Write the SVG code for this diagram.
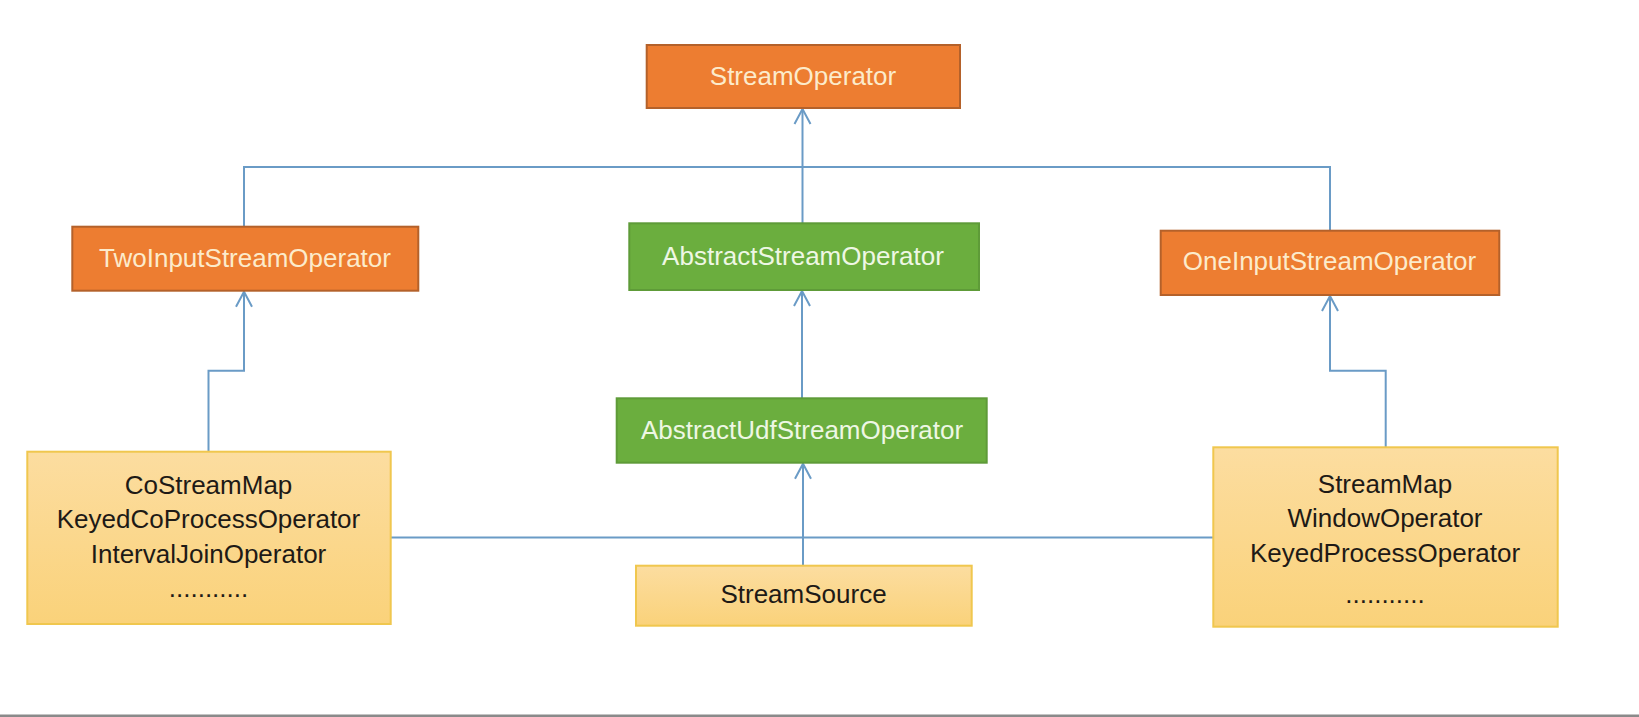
<svg xmlns="http://www.w3.org/2000/svg" width="1639" height="717" viewBox="0 0 1639 717">
<defs>
<style>
.orange{fill:#ED7D31;stroke:#B4612A;stroke-width:2}
.green{fill:#6BAE3E;stroke:#5E9B38;stroke-width:2}
.yellow{fill:#FBD88A;stroke:#F0C74E;stroke-width:2}
text{font-family:"Liberation Sans",Arial,sans-serif;font-size:26px;text-anchor:middle}
.lt{fill:#FCEBCB}
.lg{fill:#EEF7E4}
.dk{fill:#1E1A16}
.conn{fill:none;stroke:#6A9BC6;stroke-width:2}
</style>
<linearGradient id="yg" x1="0" y1="0" x2="0" y2="1">
<stop offset="0" stop-color="#FCDDA0"/>
<stop offset="1" stop-color="#FAD27A"/>
</linearGradient>
<marker id="open" viewBox="0 0 20 20" refX="18" refY="10" markerWidth="20" markerHeight="20" markerUnits="userSpaceOnUse" orient="auto">
<path d="M3,2 L18,10 L3,18" fill="none" stroke="#6A9BC6" stroke-width="2"/>
</marker>
</defs>
<rect width="1639" height="717" fill="#FFFFFF"/>
<g id="connectors">
<path class="conn" d="M244,226.7 V167 H1330 V230.7"/>
<path class="conn" d="M802.5,223.3 V109" marker-end="url(#open)"/>
<path class="conn" d="M802,398.3 V291" marker-end="url(#open)"/>
<path class="conn" d="M208.5,451.7 V370.7 H244 V291.7" marker-end="url(#open)"/>
<path class="conn" d="M1385.7,447.3 V370.7 H1330 V296" marker-end="url(#open)"/>
<path class="conn" d="M390.7,537.5 H1213.3"/>
<path class="conn" d="M803,565.7 V463.7" marker-end="url(#open)"/>
</g>
<g id="StreamOperator">
<rect class="orange" x="646.7" y="45" width="313.3" height="63"/>
<text class="lt" x="803" y="85">StreamOperator</text>
</g>
<g id="TwoInputStreamOperator">
<rect class="orange" x="72.3" y="226.7" width="346" height="64"/>
<text class="lt" x="245" y="267">TwoInputStreamOperator</text>
</g>
<g id="AbstractStreamOperator">
<rect class="green" x="629.3" y="223.3" width="349.7" height="66.7"/>
<text class="lg" x="803" y="265">AbstractStreamOperator</text>
</g>
<g id="OneInputStreamOperator">
<rect class="orange" x="1160.7" y="230.7" width="338.6" height="64.3"/>
<text class="lt" x="1329.5" y="270">OneInputStreamOperator</text>
</g>
<g id="AbstractUdfStreamOperator">
<rect class="green" x="616.7" y="398.3" width="370" height="64.4"/>
<text class="lg" x="802" y="438.5">AbstractUdfStreamOperator</text>
</g>
<g id="TwoInputImpls">
<rect class="yellow" x="27.3" y="451.7" width="363.4" height="172.3" fill="url(#yg)" style="fill:url(#yg)"/>
<text class="dk" x="208.5" y="494.3">CoStreamMap</text>
<text class="dk" x="208.5" y="528">KeyedCoProcessOperator</text>
<text class="dk" x="208.5" y="562.7">IntervalJoinOperator</text>
<text class="dk" x="208.5" y="597">...........</text>
</g>
<g id="StreamSource">
<rect class="yellow" x="636" y="565.7" width="335.7" height="60" style="fill:url(#yg)"/>
<text class="dk" x="803.5" y="603.3">StreamSource</text>
</g>
<g id="OneInputImpls">
<rect class="yellow" x="1213.3" y="447.3" width="344.4" height="179.4" style="fill:url(#yg)"/>
<text class="dk" x="1385" y="493.3">StreamMap</text>
<text class="dk" x="1385" y="527.3">WindowOperator</text>
<text class="dk" x="1385" y="561.7">KeyedProcessOperator</text>
<text class="dk" x="1385" y="602.7">...........</text>
</g>
<rect x="0" y="714.5" width="1639" height="2.5" fill="#8A8A8A"/>
</svg>
